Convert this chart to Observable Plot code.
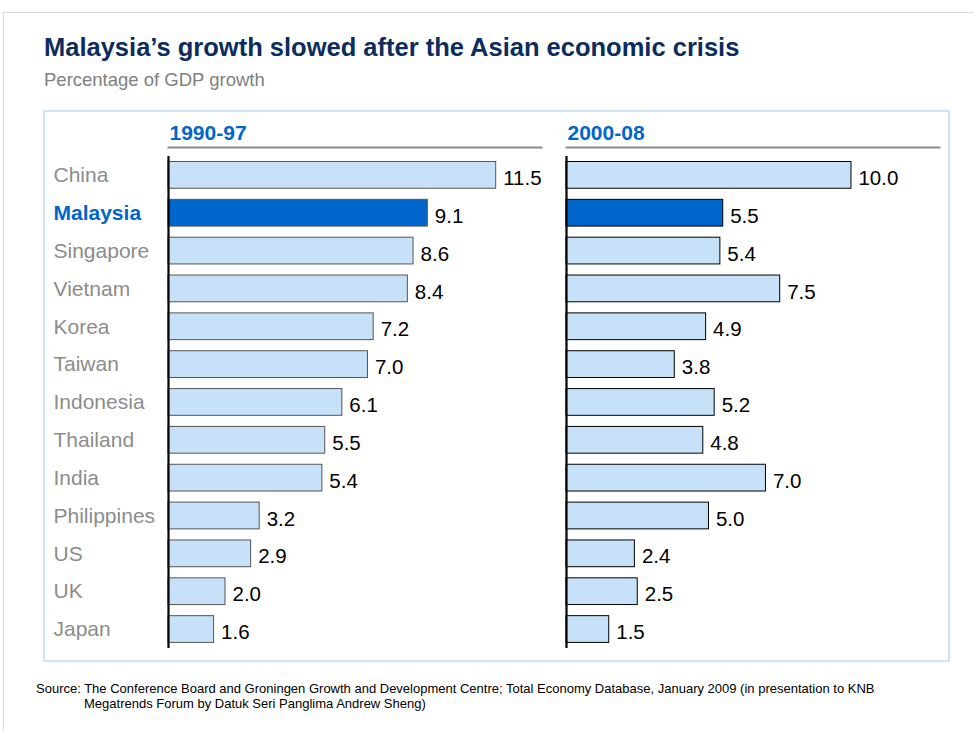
<!DOCTYPE html>
<html><head><meta charset="utf-8">
<script src="https://cdn.jsdelivr.net/npm/d3@7"></script>
<script src="https://cdn.jsdelivr.net/npm/@observablehq/plot@0.6"></script>
<style>
body{margin:0;background:#fff;font-family:Arial,"Liberation Sans",sans-serif;}
#page{position:relative;width:974px;height:731px;overflow:hidden;}
#frame{position:absolute;left:3px;top:12px;width:1100px;height:800px;border-top:1px solid #dcdcdc;border-left:1px solid #dcdcdc;}
#title{position:absolute;left:44px;top:33px;font-size:25.5px;font-weight:bold;color:#0b2c5e;white-space:nowrap;}
#subtitle{position:absolute;left:44px;top:69px;font-size:18.5px;color:#808080;white-space:nowrap;}
#box{position:absolute;left:43px;top:110px;width:903px;height:548px;border:2px solid #cfe4f7;}
#chart{position:absolute;left:0;top:0;}
.src{position:absolute;font-size:13px;line-height:14px;color:#000;white-space:nowrap;}
</style></head>
<body>
<div id="page">
  <div id="frame"></div>
  <div id="title">Malaysia’s growth slowed after the Asian economic crisis</div>
  <div id="subtitle">Percentage of GDP growth</div>
  <div id="box"></div>
  <div id="chart"></div>
  <div class="src" style="left:36px;top:682px;">Source: The Conference Board and Groningen Growth and Development Centre; Total Economy Database, January 2009 (in presentation to KNB</div>
  <div class="src" style="left:84px;top:697px;">Megatrends Forum by Datuk Seri Panglima Andrew Sheng)</div>
</div>
<script>
const countries = ["China","Malaysia","Singapore","Vietnam","Korea","Taiwan","Indonesia","Thailand","India","Philippines","US","UK","Japan"];
const periods = ["1990-97","2000-08"];
const growth9097 = [11.5,9.1,8.6,8.4,7.2,7.0,6.1,5.5,5.4,3.2,2.9,2.0,1.6];
const growth0008 = [10.0,5.5,5.4,7.5,4.9,3.8,5.2,4.8,7.0,5.0,2.4,2.5,1.5];
const highlight = "Malaysia";

const data = periods.flatMap((p, i) => countries.map((c, j) => ({period: p, country: c, value: (i ? growth0008 : growth9097)[j]})));
const leftRows = data.filter(d => d.period === periods[0]);

const chart = Plot.plot({
  width: 974,
  height: 660,
  marginTop: 156,
  marginBottom: 12,
  marginLeft: 168,
  marginRight: 35,
  style: {fontFamily: "Arial, 'Liberation Sans', sans-serif", background: "transparent"},
  fx: {domain: periods, paddingInner: 0.0628, paddingOuter: 0, round: false, axis: null, label: null},
  x: {domain: [0, 13.09], axis: null},
  y: {domain: countries, padding: 0, round: false, axis: null},
  marks: [
    Plot.barX(data, {
      fx: "period", y: "country", x: "value",
      fill: d => d.country === highlight ? "#0066cc" : "#c7e1f9",
      stroke: d => d.period === periods[0] ? "#555555" : "#000000",
      strokeWidth: 1, insetTop: 5.5, insetBottom: 5.6
    }),
    Plot.ruleX([0], {stroke: "#000", strokeWidth: 2.2}),
    Plot.text(data, {
      fx: "period", x: "value", y: "country", text: d => d.value.toFixed(1),
      textAnchor: "start", dx: 7, dy: 3, fontSize: 20.5, fill: "#000"
    }),
    Plot.text(leftRows.filter(d => d.country !== highlight), {
      fx: "period", x: 0, y: "country", text: "country",
      textAnchor: "start", dx: -115, fontSize: 21, fill: "#8c8c8c"
    }),
    Plot.text(leftRows.filter(d => d.country === highlight), {
      fx: "period", x: 0, y: "country", text: "country",
      textAnchor: "start", dx: -115, fontSize: 21, fontWeight: "bold", fill: "#0066cc"
    }),
    Plot.text(periods, {
      fx: d => d, frameAnchor: "top-left", text: d => d, lineAnchor: "bottom",
      dx: 1, dy: -17, fontSize: 21, fontWeight: "bold", fill: "#0066cc"
    }),
    Plot.frame({anchor: "top", stroke: "#8c8c8c", strokeWidth: 2, dy: -9})
  ]
});
document.getElementById("chart").appendChild(chart);
</script>
</body></html>
